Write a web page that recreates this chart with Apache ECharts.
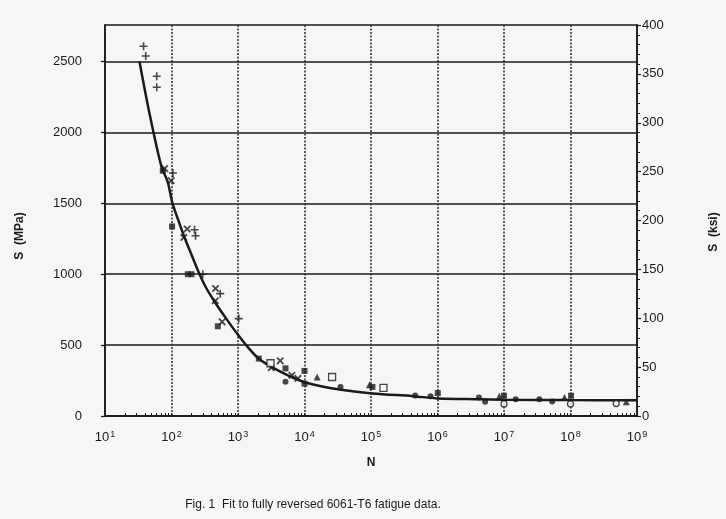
<!DOCTYPE html>
<html>
<head>
<meta charset="utf-8">
<title>6061-T6 fatigue</title>
<script src="https://cdn.jsdelivr.net/npm/echarts@6/dist/echarts.min.js"></script>
<style>
  html, body { margin: 0; padding: 0; background: #f6f6f6; }
  #chart { width: 726px; height: 519px; }
</style>
</head>
<body>
<div id="chart"></div>
<script>
// Fitted S-N curve (cycles N, stress amplitude S in MPa)
const curveN = [33, 45.6, 70, 88, 102.6, 124.5, 157, 198, 264, 333, 443, 665, 1019, 1490, 2105, 3335, 5940, 10600, 33600, 106000, 425000, 1030000, 4000000, 1e7, 1e8, 1e9];
const curveS = [2500, 2157, 1765, 1648, 1507, 1390, 1259, 1142, 1000, 903, 808, 687, 568, 472, 400, 341, 282, 235, 187, 159, 140, 124, 118, 115, 112, 111];

// Test data, grouped by marker type
const plusN = [38, 41, 60, 60, 105, 222, 230, 295, 540, 1028];
const plusS = [2608, 2539, 2396, 2319, 1714, 1314, 1271, 1000, 863, 687];

const crossN = [79, 99, 172, 153, 459, 455, 578, 4315, 3160, 6460, 7950];
const crossS = [1745, 1660, 1319, 1259, 899, 813, 664, 389, 341, 287, 265];

const solidSquareN = [74, 102, 176, 200, 497, 2057, 5180, 10000, 10000, 105000, 1010000, 1e7, 1.02e8];
const solidSquareS = [1730, 1337, 1000, 1000, 633, 405, 336, 318, 228, 205, 162, 143, 143];

const openSquareN = [3080, 26000, 154000];
const openSquareS = [372, 275, 199];

const solidCircleN = [5180, 34800, 462000, 786000, 4200000, 5200000, 1.5e7, 3.4e7, 5.3e7];
const solidCircleS = [242, 204, 144, 140, 130, 100, 118, 118, 102];

const openCircleN = [1e7, 1e8, 4.87e8];
const openCircleS = [85, 85, 88];

const triangleN = [15500, 95000, 8.5e6, 8.1e7, 6.9e8];
const triangleS = [275, 220, 140, 130, 100];

// Axis ticks
const mpaTicks = [0, 500, 1000, 1500, 2000, 2500];
const ksiMax = 400;
const mpaPerKsi = 6.894757;

const pairs = (xs, ys) => xs.map((x, i) => [x, ys[i]]);

// log ticks: 1..9 times each decade
const logTicks = [];
for (let e = 1; e < 9; e++) {
  for (let k = 1; k <= 9; k++) logTicks.push(k * Math.pow(10, e));
}
logTicks.push(1e9);

const ink = '#1a1a1a';
const font = 'Liberation Sans, Arial, sans-serif';
const plusPath = 'path://M4,0H6V4H10V6H6V10H4V6H0V4H4Z';

function markerSeries(xs, ys, symbol, size, opts) {
  return Object.assign({
    type: 'scatter',
    data: pairs(xs, ys),
    symbol: symbol,
    symbolSize: size,
    itemStyle: { color: ink },
    z: 5,
    silent: true
  }, opts || {});
}

const chart = echarts.init(document.getElementById('chart'), null, { renderer: 'canvas' });

chart.setOption({
  backgroundColor: '#f6f6f6',
  animation: false,
  textStyle: { fontFamily: font },
  grid: {
    left: 105, right: 89, top: 25, bottom: 103,
    show: true, borderColor: ink, borderWidth: 1.5, backgroundColor: 'transparent'
  },
  xAxis: [
    {
      // labelled axis with log minor ticks
      type: 'log',
      logBase: 10,
      min: 10,
      max: 1e9,
      position: 'bottom',
      name: 'N',
      nameLocation: 'middle',
      nameGap: 41,
      nameTextStyle: { color: ink, fontSize: 12, fontWeight: 'bold' },
      axisLine: { lineStyle: { color: ink, width: 1.5 } },
      axisTick: { show: true, inside: true, length: 3, customValues: logTicks, lineStyle: { color: ink, width: 1 } },
      axisLabel: {
        margin: 14,
        color: ink,
        fontSize: 13,
        formatter: function (v) {
          const e = Math.round(Math.log10(v));
          return '10{sup|' + e + '}';
        },
        rich: {
          sup: { fontSize: 9, verticalAlign: 'top', padding: [0, 0, 6, 1], color: ink }
        }
      },
      splitLine: { show: false }
    },
    {
      // decade grid lines
      type: 'log',
      logBase: 10,
      min: 10,
      max: 1e9,
      position: 'top',
      axisLine: { show: false },
      axisTick: { show: false },
      axisLabel: { show: false },
      splitLine: { show: true, lineStyle: { color: '#2a2a2a', width: 1.5, type: [2, 1.5] } }
    }
  ],
  yAxis: [
    {
      type: 'value',
      position: 'left',
      min: 0,
      max: ksiMax * mpaPerKsi,
      interval: 500,
      axisLine: { show: true, lineStyle: { color: ink, width: 1.5 } },
      axisTick: { show: true, length: 4, customValues: mpaTicks, lineStyle: { color: ink, width: 1.3 } },
      axisLabel: { customValues: mpaTicks, margin: 23, color: ink, fontSize: 13, formatter: v => String(v) },
      splitLine: { show: true, lineStyle: { color: ink, width: 1.5 } }
    },
    {
      type: 'value',
      position: 'right',
      min: 0,
      max: ksiMax,
      interval: 50,
      axisLine: { show: true, lineStyle: { color: ink, width: 1.5 } },
      axisTick: { show: true, length: 4, lineStyle: { color: ink, width: 1.2 } },
      minorTick: { show: true, splitNumber: 5, length: 3, lineStyle: { color: ink, width: 1 } },
      axisLabel: { margin: 5, color: ink, fontSize: 13 },
      splitLine: { show: false }
    }
  ],
  graphic: [
    {
      type: 'text', x: 20, y: 236, rotation: Math.PI / 2,
      style: { text: 'S  (MPa)', fill: ink, font: 'bold 12px ' + font, align: 'center', verticalAlign: 'middle' }
    },
    {
      type: 'text', x: 714, y: 232, rotation: Math.PI / 2,
      style: { text: 'S  (ksi)', fill: ink, font: 'bold 12px ' + font, align: 'center', verticalAlign: 'middle' }
    },
    {
      type: 'text', x: 313, y: 505,
      style: { text: 'Fig. 1  Fit to fully reversed 6061-T6 fatigue data.', fill: ink, font: '12px ' + font, align: 'center', verticalAlign: 'middle' }
    }
  ],
  series: [
    {
      type: 'line',
      data: pairs(curveN, curveS),
      smooth: 0.3,
      showSymbol: false,
      lineStyle: { color: ink, width: 2.5 },
      z: 4,
      silent: true
    },
    markerSeries(plusN, plusS, plusPath, 8),
    markerSeries(crossN, crossS, plusPath, 9, { symbolRotate: 45 }),
    markerSeries(solidSquareN, solidSquareS, 'rect', 6),
    markerSeries(openSquareN, openSquareS, 'rect', 7, { itemStyle: { color: '#f6f6f6', borderColor: ink, borderWidth: 1.3 } }),
    markerSeries(solidCircleN, solidCircleS, 'circle', 6),
    markerSeries(openCircleN, openCircleS, 'circle', 6, { itemStyle: { color: '#f6f6f6', borderColor: ink, borderWidth: 1.3 } }),
    markerSeries(triangleN, triangleS, 'triangle', 7)
  ]
});
</script>
</body>
</html>
